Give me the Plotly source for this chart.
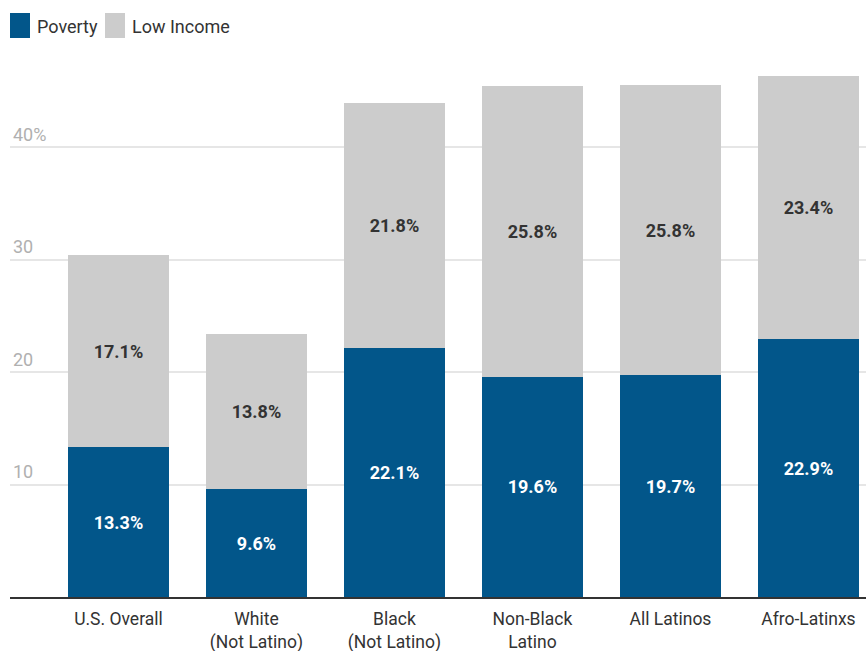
import plotly.graph_objects as go

categories = ["U.S. Overall", "White<br>(Not Latino)", "Black<br>(Not Latino)",
              "Non-Black<br>Latino", "All Latinos", "Afro-Latinxs"]
poverty = [13.3, 9.6, 22.1, 19.6, 19.7, 22.9]
low_income = [17.1, 13.8, 21.8, 25.8, 25.8, 23.4]
tick_vals = [10, 20, 30, 40]
tick_text = ["10", "20", "30", "40%"]

BLUE = "#02568a"
GREY = "#cccccc"
FONT = "Roboto"

xs = list(range(len(categories)))

fig = go.Figure()
fig.add_trace(go.Bar(
    x=xs, y=poverty, name="Poverty", marker=dict(color=BLUE, line=dict(width=0)),
    width=0.732, text=[f"{v:.1f}%" for v in poverty], textposition="inside",
    insidetextanchor="middle", constraintext="none",
    textfont=dict(family=FONT, size=18, color="white", weight="bold"),
    hoverinfo="skip"))
fig.add_trace(go.Bar(
    x=xs, y=low_income, name="Low Income", marker=dict(color=GREY, line=dict(width=0)),
    width=0.732, text=[f"{v:.1f}%" for v in low_income], textposition="inside",
    insidetextanchor="middle", constraintext="none",
    textfont=dict(family=FONT, size=18, color="#333333", weight="bold"),
    hoverinfo="skip"))

fig.update_layout(
    barmode="stack",
    width=866, height=651,
    margin=dict(l=10, r=0, t=57, b=54),
    paper_bgcolor="white", plot_bgcolor="white",
    showlegend=False,
    font=dict(family=FONT, color="#333333"),
    xaxis=dict(
        range=[-0.786, 5.417], tickmode="array", tickvals=xs, ticktext=categories,
        tickfont=dict(family=FONT, size=17.5, color="#333333"),
        ticklabelstandoff=5, automargin=False,
        showgrid=False, showline=True, linecolor="#333333", linewidth=2,
        ticks="", zeroline=False, fixedrange=True,
    ),
    yaxis=dict(
        range=[0, 48], tickmode="array", tickvals=tick_vals, ticktext=tick_text,
        tickfont=dict(family=FONT, size=18, color="#b0b0b0"), automargin=False,
        ticklabelposition="inside top", showgrid=True, gridcolor="#e6e6e6",
        gridwidth=2, zeroline=False, showline=False, ticks="", fixedrange=True,
    ),
)

plot_h = 651 - 57 - 54
plot_w = 866 - 10

def px_x(p):
    return (p - 10) / plot_w

def px_y(p):
    return (651 - 54 - p) / plot_h

legend_items = [("Poverty", BLUE, 10, 35), ("Low Income", GREY, 105, 130)]
for label, color, sx, tx in legend_items:
    fig.add_shape(type="rect", xref="paper", yref="paper",
                  x0=px_x(sx), x1=px_x(sx + 20), y0=px_y(38), y1=px_y(13),
                  fillcolor=color, line=dict(width=0))
    fig.add_annotation(xref="paper", yref="paper", x=px_x(tx), y=px_y(26),
                       text=label, showarrow=False, xanchor="left", yanchor="middle",
                       font=dict(family=FONT, size=18, color="#333333"))

fig.write_html("out.html", config={"displayModeBar": False},
               post_script="document.body.style.margin='0';document.body.style.overflow='hidden';")
